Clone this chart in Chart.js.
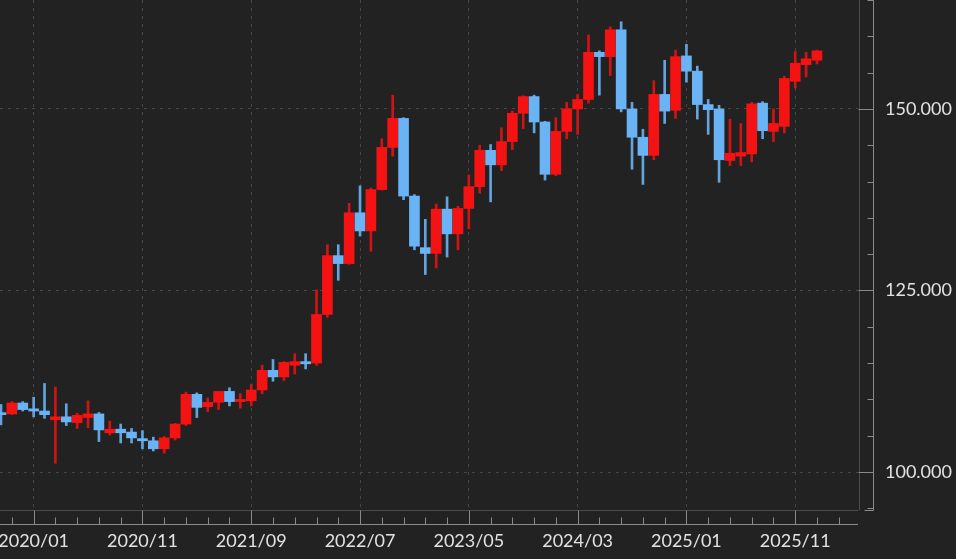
<!DOCTYPE html>
<html>
<head>
<meta charset="utf-8">
<title>USD/JPY monthly</title>
<script src="https://cdn.jsdelivr.net/npm/chart.js@4.4.1/dist/chart.umd.min.js"></script>
<style>
  html, body { margin: 0; padding: 0; background: #222222; }
  canvas { display: block; }
</style>
</head>
<body>
<canvas id="candleChart" width="956" height="559"></canvas>
<script>
// monthly candles, 2019/10 .. 2026/01
var months = [
    '2019/10', '2019/11', '2019/12',
    '2020/01', '2020/02', '2020/03', '2020/04', '2020/05', '2020/06', '2020/07', '2020/08', '2020/09', '2020/10', '2020/11', '2020/12',
    '2021/01', '2021/02', '2021/03', '2021/04', '2021/05', '2021/06', '2021/07', '2021/08', '2021/09', '2021/10', '2021/11', '2021/12',
    '2022/01', '2022/02', '2022/03', '2022/04', '2022/05', '2022/06', '2022/07', '2022/08', '2022/09', '2022/10', '2022/11', '2022/12',
    '2023/01', '2023/02', '2023/03', '2023/04', '2023/05', '2023/06', '2023/07', '2023/08', '2023/09', '2023/10', '2023/11', '2023/12',
    '2024/01', '2024/02', '2024/03', '2024/04', '2024/05', '2024/06', '2024/07', '2024/08', '2024/09', '2024/10', '2024/11', '2024/12',
    '2025/01', '2025/02', '2025/03', '2025/04', '2025/05', '2025/06', '2025/07', '2025/08', '2025/09', '2025/10', '2025/11', '2025/12',
    '2026/01'
];
var opens = [
    108.1, 108.0, 109.5,
    108.7, 108.4, 107.2, 107.6, 106.8, 107.5, 108.0, 105.4, 105.9, 105.5, 104.6, 104.3,
    103.2, 104.7, 106.6, 110.7, 109.0, 109.6, 111.1, 109.7, 109.8, 111.3, 114.0, 113.1,
    114.7, 115.2, 115.0, 121.7, 129.8, 128.7, 135.7, 133.2, 138.9, 144.7, 148.7, 138.0,
    130.9, 130.1, 136.2, 132.8, 136.3, 139.3, 144.3, 142.3, 145.5, 149.4, 151.7, 148.2,
    141.0, 146.9, 150.0, 151.3, 157.8, 157.2, 160.9, 150.0, 146.1, 143.6, 152.0, 149.8,
    157.3, 155.2, 150.6, 150.0, 142.9, 143.5, 143.8, 150.8, 146.9, 147.6, 153.8, 156.1,
    156.7
];
var highs = [
    109.3, 109.7, 109.7,
    110.3, 112.2, 111.7, 109.4, 108.1, 109.8, 108.2, 107.0, 106.6, 106.0, 105.7, 104.8,
    104.9, 106.7, 111.0, 110.9, 110.2, 111.1, 111.6, 110.8, 112.1, 114.7, 115.5, 115.2,
    116.3, 116.3, 125.1, 131.3, 131.3, 137.0, 139.4, 139.1, 145.9, 151.9, 148.8, 138.2,
    134.8, 136.9, 137.9, 136.6, 140.9, 145.0, 145.1, 147.4, 149.7, 151.8, 151.9, 148.3,
    148.8, 150.9, 152.0, 160.2, 158.0, 161.3, 162.0, 150.9, 147.2, 153.9, 156.7, 158.1,
    158.9, 155.9, 151.3, 150.5, 148.6, 148.0, 150.9, 151.0, 150.0, 154.5, 157.9, 157.8,
    158.1
];
var lows = [
    106.5, 107.9, 108.4,
    107.6, 107.4, 101.2, 106.4, 106.0, 106.1, 104.2, 105.1, 104.0, 104.0, 103.2, 102.9,
    102.6, 104.4, 106.4, 107.5, 108.3, 108.6, 109.1, 108.8, 109.1, 110.8, 112.5, 112.6,
    113.5, 114.2, 114.7, 121.3, 126.4, 128.6, 132.5, 130.4, 138.8, 143.5, 137.5, 130.6,
    127.2, 128.1, 129.6, 130.6, 133.5, 138.4, 137.2, 141.5, 144.4, 147.3, 146.7, 140.2,
    140.8, 145.9, 146.5, 150.8, 151.9, 154.6, 149.6, 141.7, 139.6, 143.0, 148.0, 148.7,
    153.7, 148.6, 146.5, 139.9, 142.2, 142.2, 142.7, 145.9, 145.5, 146.7, 152.9, 154.4,
    156.2
];
var closes = [
    107.9, 109.5, 108.6,
    108.4, 107.9, 107.6, 106.9, 107.8, 108.0, 105.8, 105.9, 105.4, 104.7, 104.3, 103.2,
    104.7, 106.6, 110.7, 108.9, 109.6, 111.1, 109.7, 110.0, 111.3, 114.0, 113.1, 115.1,
    115.2, 114.9, 121.7, 129.8, 128.7, 135.7, 133.2, 138.9, 144.7, 148.7, 138.0, 131.1,
    130.1, 136.2, 132.8, 136.3, 139.3, 144.3, 142.3, 145.5, 149.4, 151.7, 148.2, 141.0,
    146.9, 150.0, 151.3, 157.8, 157.2, 160.9, 150.0, 146.1, 143.6, 152.0, 149.7, 157.2,
    155.2, 150.6, 149.9, 143.0, 143.9, 144.0, 150.7, 147.0, 148.0, 154.2, 156.3, 156.9,
    158.0
];
var tickMonths = ['2020/01', '2020/11', '2021/09', '2022/07', '2023/05', '2024/03', '2025/01', '2025/11'];
var priceTicks = [100, 125, 150];

var upColor = '#f51212';
var downColor = '#6ab4f6';
var upWick = '#d01414';
var downWick = '#62a4e0';
var gridColor = '#474747';
var labelColor = '#e2e2e2';

function isUp(i) {
    return closes[i] >= opens[i];
}

var bodies = months.map(function (m, i) { return { x: i, y: [opens[i], closes[i]] }; });
var wicks = months.map(function (m, i) { return { x: i, y: [lows[i], highs[i]] }; });
var majorIdx = tickMonths.map(function (m) { return months.indexOf(m); });

// axis lines and small tick marks, drawn with the chart's own scales
var axisDecor = {
    id: 'axisDecor',
    beforeDraw: function (chart) {
        var c = chart.ctx;
        c.save();
        c.fillStyle = '#222222';
        c.fillRect(0, 0, chart.width, chart.height);
        c.restore();
    },
    afterDraw: function (chart) {
        var c = chart.ctx, area = chart.chartArea;
        var xs = chart.scales.x, ys = chart.scales.y;
        c.save();
        c.lineWidth = 1;

        // plot frame
        c.strokeStyle = '#4c4c4c';
        c.beginPath();
        c.moveTo(area.left, area.bottom + 0.5);
        c.lineTo(area.right, area.bottom + 0.5);
        c.moveTo(area.right + 1.5, area.top);
        c.lineTo(area.right + 1.5, area.bottom + 0.5);
        c.stroke();

        // price axis
        var ax = area.right + 15.5;
        c.strokeStyle = '#8a8a8a';
        c.beginPath();
        c.moveTo(ax, area.top);
        c.lineTo(ax, area.bottom + 0.5);
        c.lineTo(ax - 9, area.bottom + 0.5);
        for (var v = 95; v <= 165; v += 5) {
            var py = Math.round(ys.getPixelForValue(v)) + 0.5;
            var len = priceTicks.indexOf(v) >= 0 ? 15 : 6;
            c.moveTo(ax - len, py);
            c.lineTo(ax, py);
        }
        c.stroke();

        // time axis
        var by = area.bottom + 14.5;
        c.beginPath();
        c.moveTo(area.left, by);
        c.lineTo(area.right, by);
        for (var i = 1; i < 78; i += 2) {
            var px = Math.round(xs.getPixelForValue(i)) + 0.5;
            var tl = majorIdx.indexOf(i) >= 0 ? 14 : 7;
            c.moveTo(px, by);
            c.lineTo(px, by - tl);
        }
        c.stroke();
        c.restore();
    }
};

var chart = new Chart(document.getElementById('candleChart'), {
    type: 'bar',
    data: {
        datasets: [
            {
                label: 'body',
                data: bodies,
                backgroundColor: function (ctx) { return isUp(ctx.dataIndex) ? upColor : downColor; },
                barThickness: 10,
                minBarLength: 2,
                borderWidth: 0,
                borderSkipped: false,
                grouped: false,
                order: 0
            },
            {
                label: 'wick',
                data: wicks,
                backgroundColor: function (ctx) { return isUp(ctx.dataIndex) ? upWick : downWick; },
                barThickness: 2,
                borderWidth: 0,
                borderSkipped: false,
                grouped: false,
                order: 1
            }
        ]
    },
    options: {
        responsive: false,
        animation: false,
        events: [],
        layout: { padding: 0 },
        plugins: {
            legend: { display: false },
            tooltip: { enabled: false }
        },
        scales: {
            x: {
                type: 'linear',
                offset: false,
                min: -0.092,
                max: 78.77,
                afterBuildTicks: function (s) {
                    s.ticks = majorIdx.map(function (v) { return { value: v }; });
                },
                afterFit: function (s) {
                    s.height = 49;
                    s.paddingLeft = 0;
                    s.paddingRight = 0;
                },
                grid: { color: gridColor, drawTicks: false, offset: false },
                border: { display: false, dash: [3, 5] },
                ticks: {
                    autoSkip: false,
                    maxRotation: 0,
                    padding: 20,
                    color: labelColor,
                    font: { family: 'Lato', size: 18 },
                    callback: function (v) { return months[v]; }
                }
            },
            y: {
                position: 'right',
                min: 94.77,
                max: 165.0,
                afterFit: function (s) {
                    s.width = 98;
                    s.paddingTop = 0;
                    s.paddingBottom = 0;
                },
                grid: { color: gridColor, drawTicks: false },
                border: { display: false, dash: [3, 5] },
                ticks: {
                    stepSize: 25,
                    includeBounds: false,
                    padding: 27,
                    color: labelColor,
                    font: { family: 'Lato', size: 18 },
                    callback: function (v) { return v.toFixed(3); }
                }
            }
        }
    },
    plugins: [axisDecor]
});
</script>
</body>
</html>
